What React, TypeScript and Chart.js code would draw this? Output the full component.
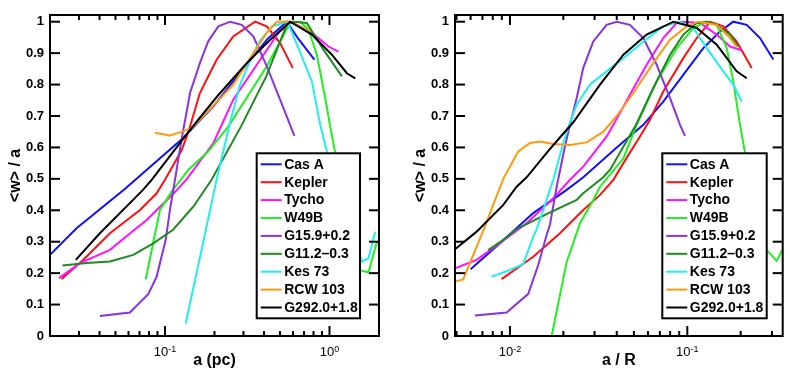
import React, { useEffect, useRef } from 'react';
import { Chart, registerables } from 'chart.js';
Chart.register(...registerables);

const FONT = "'Liberation Sans', Arial, Helvetica, sans-serif";

const seriesNames = ['Cas A', 'Kepler', 'Tycho', 'W49B', 'G15.9+0.2', 'G11.2\u20130.3', 'Kes 73', 'RCW 103', 'G292.0+1.8'];
const seriesColors = ['#1010ff', '#ff1010', '#ff10ff', '#22ee22', '#8833dd', '#1f8a1f', '#22eeee', '#ff9a10', '#000000'];

const yTickValues = [0, 0.1, 0.2, 0.3, 0.4, 0.5, 0.6, 0.7, 0.8, 0.9, 1];
const yTickLabels = ['0', '0.1', '0.2', '0.3', '0.4', '0.5', '0.6', '0.7', '0.8', '0.9', '1'];

// ---- Left panel: a (pc) ----
const leftDecades = [-1, 0];
const casA_pc = [[0.020, 0.258], [0.029, 0.343], [0.057, 0.468], [0.129, 0.630], [0.20, 0.735], [0.31, 0.86], [0.42, 0.945], [0.55, 1.0], [0.6475, 0.945], [0.81, 0.879]];
const kepler_pc = [[0.0235, 0.181], [0.0318, 0.242], [0.0463, 0.327], [0.0705, 0.401], [0.089, 0.454], [0.100, 0.497], [0.126, 0.59], [0.139, 0.65], [0.163, 0.773], [0.206, 0.879], [0.260, 0.953], [0.353, 1.0], [0.416, 0.985], [0.501, 0.932], [0.598, 0.853]];
const tycho_pc = [[0.0227, 0.184], [0.0304, 0.232], [0.0463, 0.274], [0.0641, 0.335], [0.0774, 0.369], [0.115, 0.458], [0.136, 0.50], [0.197, 0.614], [0.260, 0.752], [0.379, 0.879], [0.489, 0.964], [0.577, 1.0], [0.763, 0.969], [0.986, 0.921], [1.134, 0.905]];
const w49b_pc = [[0.0763, 0.180], [0.0932, 0.401], [0.110, 0.46], [0.139, 0.529], [0.183, 0.587], [0.243, 0.667], [0.416, 0.858], [0.577, 0.997], [0.663, 1.0], [0.745, 0.975], [0.838, 0.895], [0.942, 0.758], [1.01, 0.667], [1.083, 0.583], [1.50, 0.21], [1.727, 0.203], [1.943, 0.30]];
const g159_pc = [[0.0402, 0.064], [0.0612, 0.075], [0.0791, 0.133], [0.089, 0.189], [0.101, 0.306], [0.1072, 0.401], [0.115, 0.497], [0.126, 0.624], [0.142, 0.773], [0.163, 0.868], [0.183, 0.937], [0.211, 0.985], [0.249, 1.0], [0.293, 0.99], [0.345, 0.953], [0.416, 0.858], [0.501, 0.752], [0.612, 0.637]];
const g112_pc = [[0.0238, 0.224], [0.0334, 0.232], [0.0463, 0.237], [0.0641, 0.258], [0.0849, 0.295], [0.112, 0.338], [0.149, 0.412], [0.192, 0.497], [0.290, 0.667], [0.412, 0.825], [0.550, 0.99], [0.604, 1.0], [0.729, 0.996], [0.919, 0.911], [1.19, 0.826]];
const kes73_pc = [[0.1336, 0.040], [0.206, 0.497], [0.2487, 0.68], [0.2861, 0.80], [0.3371, 0.89], [0.3787, 0.94], [0.448, 0.985], [0.555, 1.0], [0.6475, 0.916], [0.782, 0.81], [0.878, 0.672], [0.964, 0.587], [1.575, 0.237], [1.727, 0.247], [1.897, 0.332]];
const rcw103_pc = [[0.0869, 0.647], [0.1072, 0.638], [0.1287, 0.651], [0.146, 0.662], [0.2073, 0.745], [0.2604, 0.80], [0.3446, 0.90], [0.4159, 0.965], [0.4784, 1.0], [0.5765, 1.0], [0.763, 0.968]];
const g292_pc = [[0.0287, 0.242], [0.0402, 0.327], [0.0735, 0.465], [0.083, 0.497], [0.142, 0.656], [0.2073, 0.762], [0.314, 0.868], [0.416, 0.932], [0.577, 1.0], [0.782, 0.959], [1.034, 0.895], [1.276, 0.836], [1.434, 0.82]];

// ---- Right panel: a / R ----
const rightDecades = [-2, -1];
const casA_R = [[0.0060, 0.212], [0.00878, 0.295], [0.01353, 0.391], [0.02088, 0.465], [0.02591, 0.505], [0.0400, 0.60], [0.0565, 0.672], [0.0732, 0.746], [0.0949, 0.831], [0.1231, 0.916], [0.1529, 0.969], [0.1817, 1.0], [0.2163, 0.99], [0.2570, 0.948], [0.3056, 0.88]];
const kepler_R = [[0.00898, 0.181], [0.01353, 0.252], [0.01914, 0.327], [0.02591, 0.401], [0.0322, 0.449], [0.0383, 0.497], [0.0436, 0.55], [0.0541, 0.635], [0.0616, 0.688], [0.0732, 0.778], [0.0949, 0.884], [0.1130, 0.948], [0.1343, 1.0], [0.1596, 0.985], [0.1899, 0.937], [0.2307, 0.853]];
const tycho_R = [[0.0049, 0.215], [0.00649, 0.242], [0.00878, 0.295], [0.01242, 0.359], [0.01754, 0.438], [0.0218, 0.497], [0.0259, 0.539], [0.0351, 0.635], [0.0383, 0.672], [0.0475, 0.768], [0.0590, 0.863], [0.0732, 0.948], [0.0872, 0.996], [0.0949, 1.0], [0.1179, 0.996], [0.1465, 0.959], [0.1741, 0.921], [0.2026, 0.909]];
const w49b_R = [[0.01718, 0.0], [0.02088, 0.235], [0.02482, 0.359], [0.0295, 0.433], [0.0322, 0.475], [0.0436, 0.565], [0.0518, 0.672], [0.0672, 0.81], [0.0872, 0.916], [0.1081, 0.98], [0.1287, 1.0], [0.1465, 0.99], [0.1668, 0.916], [0.1817, 0.81], [0.1982, 0.672], [0.2115, 0.583], [0.2743, 0.279], [0.3193, 0.239], [0.3556, 0.29]];
const g159_R = [[0.00635, 0.065], [0.00958, 0.075], [0.01268, 0.134], [0.01444, 0.226], [0.01611, 0.322], [0.01681, 0.354], [0.01834, 0.475], [0.02042, 0.603], [0.0218, 0.672], [0.02378, 0.757], [0.02591, 0.853], [0.0295, 0.937], [0.0351, 0.99], [0.0400, 1.0], [0.0475, 0.99], [0.0565, 0.948], [0.0672, 0.863], [0.0799, 0.757], [0.0910, 0.672], [0.0970, 0.637]];
const g112_R = [[0.00754, 0.273], [0.00917, 0.306], [0.01091, 0.340], [0.0164, 0.39], [0.02378, 0.433], [0.0259, 0.454], [0.0336, 0.505], [0.0367, 0.529], [0.0514, 0.672], [0.0643, 0.789], [0.0799, 0.895], [0.0949, 0.959], [0.1130, 0.996], [0.1287, 1.0], [0.1465, 0.99], [0.1741, 0.959], [0.1939, 0.921]];
const kes73_R = [[0.00788, 0.189], [0.0100, 0.21], [0.01189, 0.229], [0.01353, 0.316], [0.01414, 0.338], [0.01754, 0.497], [0.01998, 0.614], [0.0218, 0.680], [0.02378, 0.736], [0.02826, 0.80], [0.0351, 0.842], [0.0436, 0.884], [0.0565, 0.937], [0.0732, 0.985], [0.0910, 1.0], [0.1081, 0.98], [0.1287, 0.916], [0.1596, 0.842], [0.1817, 0.80], [0.2026, 0.746]];
const rcw103_R = [[0.0049, 0.173], [0.00545, 0.180], [0.00649, 0.284], [0.00723, 0.348], [0.00771, 0.391], [0.00917, 0.50], [0.01114, 0.587], [0.01297, 0.614], [0.01476, 0.619], [0.01754, 0.611], [0.0218, 0.608], [0.02707, 0.616], [0.0336, 0.65], [0.0400, 0.70], [0.0496, 0.773], [0.0643, 0.868], [0.0799, 0.943], [0.0992, 0.985], [0.1153, 1.0], [0.1465, 0.99], [0.1741, 0.948], [0.1899, 0.921]];
const g292_R = [[0.0049, 0.276], [0.00649, 0.332], [0.00917, 0.417], [0.01091, 0.475], [0.01242, 0.505], [0.01681, 0.595], [0.02275, 0.68], [0.0322, 0.80], [0.0436, 0.895], [0.0590, 0.959], [0.0834, 1.0], [0.1130, 0.98], [0.1465, 0.927], [0.1899, 0.842], [0.2163, 0.82]];

const leftSeries = [casA_pc, kepler_pc, tycho_pc, w49b_pc, g159_pc, g112_pc, kes73_pc, rcw103_pc, g292_pc];
const rightSeries = [casA_R, kepler_R, tycho_R, w49b_R, g159_R, g112_R, kes73_R, rcw103_R, g292_R];

const framePlugin = {
  id: 'rootFrame',
  afterDatasetsDraw(chart: any, _args: any, opts: any) {
    const { ctx, chartArea } = chart;
    const { left, right, top, bottom } = chartArea;
    const xs = chart.scales.x;
    const ys = chart.scales.y;
    ctx.save();
    ctx.strokeStyle = '#000';
    ctx.lineWidth = 2;
    const seg = (x1: number, y1: number, x2: number, y2: number) => {
      ctx.beginPath();
      ctx.moveTo(x1, y1);
      ctx.lineTo(x2, y2);
      ctx.stroke();
    };
    // y ticks
    for (const v of yTickValues) {
      const py = ys.getPixelForValue(v);
      seg(left, py, left + 10, py);
      seg(right, py, right - 10, py);
    }
    // x log ticks
    const lo = Math.floor(Math.log10(xs.min));
    const hi = Math.ceil(Math.log10(xs.max));
    for (let k = lo; k <= hi; k++) {
      for (let m = 1; m <= 9; m++) {
        const v = m * Math.pow(10, k);
        if (v < xs.min || v > xs.max) continue;
        const px = xs.getPixelForValue(v);
        const len = m === 1 ? 10 : 5;
        seg(px, bottom, px, bottom - len);
        seg(px, top, px, top + len);
      }
    }
    ctx.strokeRect(left, top, right - left, bottom - top);

    // x tick labels 10^k
    ctx.fillStyle = '#000';
    ctx.textBaseline = 'alphabetic';
    for (const k of opts.decades) {
      const px = xs.getPixelForValue(Math.pow(10, k));
      ctx.font = `13px ${FONT}`;
      const base = '10';
      const wb = ctx.measureText(base).width;
      ctx.font = `9px ${FONT}`;
      const exp = String(k);
      const we = ctx.measureText(exp).width;
      const x0 = px - (wb + we) / 2;
      ctx.font = `13px ${FONT}`;
      ctx.textAlign = 'left';
      ctx.fillText(base, x0, bottom + 20);
      ctx.font = `9px ${FONT}`;
      ctx.fillText(exp, x0 + wb, bottom + 15.5);
    }

    // legend box
    const lb = opts.box;
    ctx.fillStyle = '#fff';
    ctx.fillRect(lb.x, lb.y, lb.w, lb.h);
    ctx.strokeRect(lb.x, lb.y, lb.w, lb.h);
    ctx.font = `bold 14px ${FONT}`;
    ctx.textAlign = 'left';
    ctx.textBaseline = 'middle';
    chart.data.datasets.forEach((ds: any, i: number) => {
      const cy = lb.y + 11 + i * 17.9;
      ctx.strokeStyle = ds.borderColor;
      ctx.lineWidth = 2;
      seg(lb.x + 4, cy, lb.x + 25, cy);
      ctx.fillStyle = '#000';
      ctx.fillText(ds.label, lb.x + 27.5, cy + 0.5);
    });
    ctx.restore();
  },
};

function makeConfig(series: number[][][], xmin: number, xmax: number, xTitle: string, yWidth: number, rightPad: number, yTitlePad: number, box: any, decades: number[]): any {
  const n = seriesNames.length;
  return {
    type: 'line',
    data: {
      datasets: series.map((pts, i) => ({
        label: seriesNames[i],
        data: pts.map(([x, y]) => ({ x, y })),
        borderColor: seriesColors[i],
        backgroundColor: seriesColors[i],
        borderWidth: 2,
        pointRadius: 0,
        tension: 0,
        fill: false,
        order: n - i,
      })),
    },
    options: {
      responsive: false,
      animation: false,
      events: [],
      layout: { padding: { left: 0, right: rightPad, top: 15, bottom: 0 } },
      plugins: {
        legend: { display: false },
        tooltip: { enabled: false },
        rootFrame: { box, decades },
      },
      scales: {
        x: {
          type: 'logarithmic',
          position: 'bottom',
          min: xmin,
          max: xmax,
          grid: { display: false, drawTicks: false },
          border: { display: false },
          ticks: { display: false },
          afterFit: (s: any) => { s.height = 38; },
          title: { display: true, text: xTitle, color: '#000', font: { family: FONT, size: 16, weight: 'bold' }, padding: { top: 0, bottom: 4 } },
        },
        y: {
          type: 'linear',
          position: 'left',
          min: 0,
          max: 1.0213,
          afterBuildTicks: (s: any) => { s.ticks = yTickValues.map((v) => ({ value: v })); },
          grid: { display: false, drawTicks: false },
          border: { display: false },
          ticks: {
            color: '#000',
            padding: 6,
            font: { family: FONT, size: 13, weight: 'bold' },
            callback: (_v: any, idx: number) => yTickLabels[idx],
          },
          afterFit: (s: any) => { s.width = yWidth; },
          title: { display: true, text: '<w> / a', color: '#000', font: { family: FONT, size: 16, weight: 'bold' }, padding: { top: yTitlePad, bottom: 0 } },
        },
      },
    },
    plugins: [framePlugin],
  };
}

export default function App() {
  const leftRef = useRef<HTMLCanvasElement>(null);
  const rightRef = useRef<HTMLCanvasElement>(null);
  useEffect(() => {
    const c1 = new Chart(leftRef.current as HTMLCanvasElement, makeConfig(leftSeries, 0.02, 2.0, 'a (pc)', 50, 16, 6, { x: 256.7, y: 153.3, w: 103.3, h: 165 }, leftDecades));
    const c2 = new Chart(rightRef.current as HTMLCanvasElement, makeConfig(rightSeries, 0.0049, 0.345, 'a / R', 60, 6.3, 16, { x: 267.3, y: 153.3, w: 104.4, h: 165 }, rightDecades));
    return () => {
      c1.destroy();
      c2.destroy();
    };
  }, []);
  return (
    <div style={{ position: 'absolute', left: 0, top: 0, width: 789, height: 374, background: '#fff' }}>
      <canvas ref={leftRef} width={395} height={374} style={{ position: 'absolute', left: 0, top: 0, width: 395, height: 374 }} />
      <canvas ref={rightRef} width={394} height={374} style={{ position: 'absolute', left: 395, top: 0, width: 394, height: 374 }} />
    </div>
  );
}
